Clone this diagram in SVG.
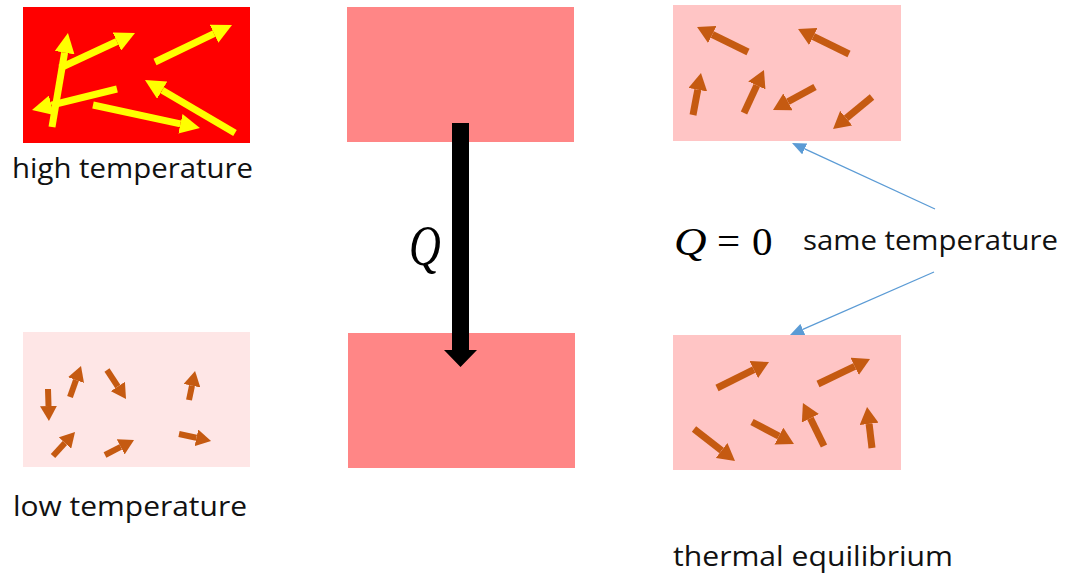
<svg xmlns="http://www.w3.org/2000/svg" width="1067" height="578" viewBox="0 0 1067 578">
<style>
.lbl{font-family:"Open Sans","Liberation Sans",sans-serif;font-size:27px;fill:#111}
.math{font-family:"Liberation Serif","Times New Roman",serif;fill:#000}
.y{stroke:#ffff00;stroke-width:7;fill:none;marker-end:url(#hy)}
.os{stroke:#c55a11;stroke-width:6;fill:none;marker-end:url(#ho)}
.ob{stroke:#c55a11;stroke-width:7;fill:none;marker-end:url(#hO)}
.bl{stroke:#5b9bd5;stroke-width:1.3;fill:none;marker-end:url(#hb)}
</style>
<defs>
<marker id="hy" markerUnits="userSpaceOnUse" markerWidth="20" markerHeight="20" refX="0" refY="10" orient="auto"><path d="M0,0 L20,10 L0,20 Z" fill="#ffff00"/></marker>
<marker id="ho" markerUnits="userSpaceOnUse" markerWidth="15" markerHeight="17" refX="0" refY="8.5" orient="auto"><path d="M0,0 L15,8.5 L0,17 Z" fill="#c55a11"/></marker>
<marker id="hO" markerUnits="userSpaceOnUse" markerWidth="17" markerHeight="19" refX="0" refY="9.5" orient="auto"><path d="M0,0 L17,9.5 L0,19 Z" fill="#c55a11"/></marker>
<marker id="hb" markerUnits="userSpaceOnUse" markerWidth="14" markerHeight="12" refX="0" refY="6" orient="auto"><path d="M0,0 L14,6 L0,12 Z" fill="#5b9bd5"/></marker>
</defs>
<rect width="1067" height="578" fill="#fff"/>

<g id="high-temp">
<rect x="23" y="7" width="227" height="136" fill="#ff0000"/>
<line class="y" x1="52" y1="127" x2="64.6" y2="52.7"/>
<line class="y" x1="60" y1="68" x2="116.9" y2="41.5"/>
<line class="y" x1="155" y1="62" x2="214" y2="33.7"/>
<line class="y" x1="117" y1="89" x2="51.4" y2="105.2"/>
<line class="y" x1="93" y1="105" x2="180.4" y2="123.8"/>
<line class="y" x1="235" y1="133" x2="162.2" y2="90.2"/>
<text class="lbl" x="12" y="178" textLength="241" lengthAdjust="spacingAndGlyphs">high temperature</text>
</g>

<g id="low-temp">
<rect x="23" y="332" width="227" height="135" fill="#fee6e6"/>
<line class="os" x1="48" y1="389" x2="48.5" y2="406"/>
<line class="os" x1="70" y1="397" x2="76" y2="380.1"/>
<line class="os" x1="107" y1="370" x2="117.8" y2="386.5"/>
<line class="os" x1="189" y1="400" x2="192" y2="385.7"/>
<line class="os" x1="53" y1="456" x2="64.9" y2="443"/>
<line class="os" x1="105" y1="455" x2="120.7" y2="446.9"/>
<line class="os" x1="179" y1="434" x2="196.4" y2="437.8"/>
<text class="lbl" x="13" y="516" textLength="234" lengthAdjust="spacingAndGlyphs">low temperature</text>
</g>

<g id="mid-top"><rect x="347" y="7" width="227" height="135" fill="#ff8686"/></g>
<g id="mid-bottom"><rect x="348" y="333" width="227" height="135" fill="#ff8686"/></g>

<g id="eq-top">
<rect x="673" y="5" width="228" height="136" fill="#ffc5c5"/>
<line class="ob" x1="748" y1="52" x2="712.3" y2="34.5"/>
<line class="ob" x1="849" y1="54" x2="813.3" y2="36.5"/>
<line class="ob" x1="693" y1="115" x2="697.8" y2="89.7"/>
<line class="ob" x1="744" y1="113" x2="756.8" y2="85.4"/>
<line class="ob" x1="815" y1="87" x2="787.9" y2="101.8"/>
<line class="ob" x1="872" y1="97" x2="846.2" y2="118.2"/>
</g>

<g id="eq-bottom">
<rect x="673" y="335" width="228" height="135" fill="#ffc5c5"/>
<line class="ob" x1="717" y1="388" x2="753.8" y2="369.6"/>
<line class="ob" x1="818" y1="384" x2="854.7" y2="366.4"/>
<line class="ob" x1="694" y1="429" x2="721.6" y2="450.5"/>
<line class="ob" x1="752" y1="422" x2="778.9" y2="436.1"/>
<line class="ob" x1="824" y1="446" x2="810.4" y2="418.3"/>
<line class="ob" x1="872" y1="448" x2="869.1" y2="423.9"/>
<text class="lbl" x="673" y="566" textLength="280" lengthAdjust="spacingAndGlyphs">thermal equilibrium</text>
</g>

<g id="connectors">
<path d="M452,123 H469 V350 H477 L460.5,367 L444,350 H452 Z" fill="#000"/>
<line class="bl" x1="935" y1="209" x2="804.7" y2="148.9"/>
<line class="bl" x1="934" y1="272" x2="802.8" y2="329.4"/>
</g>

<g id="labels">
<text class="math" font-style="italic" font-size="44" transform="translate(409,265) scale(1,1.3)">Q</text>
<text class="math" font-style="italic" font-size="41" transform="translate(674,255) scale(1.1,1)">Q</text>
<text class="math" font-size="41" x="717" y="255">=</text>
<text class="math" font-size="41" x="752" y="255">0</text>
<text class="lbl" x="803" y="250" textLength="255" lengthAdjust="spacingAndGlyphs">same temperature</text>
</g>
</svg>
